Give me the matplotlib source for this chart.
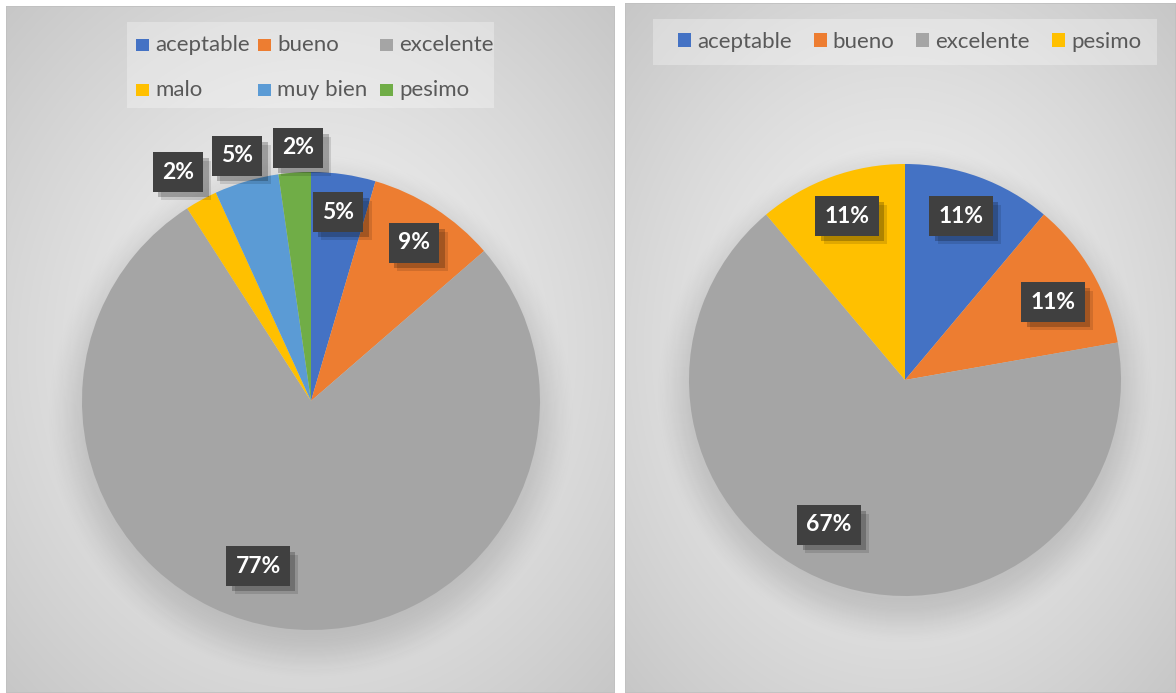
import numpy as np
import matplotlib
matplotlib.use("Agg")
import matplotlib.pyplot as plt
import matplotlib.patheffects as pe
from matplotlib.patches import Rectangle, Patch

W, H = 1176, 693

# survey answers per category
cats_left = ["aceptable", "bueno", "excelente", "malo", "muy bien", "pesimo"]
counts_left = [2, 4, 34, 1, 2, 1]
colors_left = ["#4472C4", "#ED7D31", "#A5A5A5", "#FFC000", "#5B9BD5", "#70AD47"]

cats_right = ["aceptable", "bueno", "excelente", "pesimo"]
counts_right = [1, 1, 6, 1]
colors_right = ["#4472C4", "#ED7D31", "#A5A5A5", "#FFC000"]

# where each percentage box sits, in units of the pie radius
label_xy_left = [(0.118, 0.825), (0.45, 0.69), (-0.231, -0.721),
                 (-0.581, 1.0), (-0.323, 1.07), (-0.057, 1.105)]
label_xy_right = [(0.259, 0.759), (0.685, 0.361), (-0.352, -0.671), (-0.269, 0.759)]

FONT = "Lato"
TXT = "#595959"

fig = plt.figure(figsize=(W / 100, H / 100), dpi=100)
fig.patch.set_facecolor("white")


def px_axes(x0, y0, x1, y1):
    return fig.add_axes([x0 / W, 1 - y1 / H, (x1 - x0) / W, (y1 - y0) / H])


def panel(x0, y0, x1, y1):
    ax = px_axes(x0, y0, x1, y1)
    ny, nx = int(y1 - y0), int(x1 - x0)
    yy, xx = np.mgrid[-1:1:ny * 1j, -1:1:nx * 1j]
    d = np.sqrt(xx ** 2 + yy ** 2) / np.sqrt(2)
    v = 0.95 - 0.17 * d ** 1.3
    img = np.dstack([v, v, v])
    ax.imshow(img, extent=(0, 1, 0, 1), aspect="auto", interpolation="bilinear")
    ax.add_patch(Rectangle((0, 0), 1, 1, transform=ax.transAxes, fill=False,
                           ec="#c0c0c0", lw=1.2))
    ax.set_xlim(0, 1)
    ax.set_ylim(0, 1)
    ax.axis("off")
    return ax


def pie_axes(cx, cy, R, lim=1.3):
    s = 2 * lim * R
    return fig.add_axes([(cx - s / 2) / W, 1 - (cy + s / 2) / H, s / W, s / H])


def draw_pie(ax, counts, colors, label_xy, lim=1.3):
    # soft drop shadow under the pie
    n = 400
    yy, xx = np.mgrid[-lim:lim:n * 1j, -lim:lim:n * 1j]
    d = np.sqrt(xx ** 2 + (yy + 0.07) ** 2)
    t = np.clip((d - 0.93) / 0.24, 0, 1)
    a = 0.14 * (1 - (3 * t ** 2 - 2 * t ** 3))
    sh = np.zeros((n, n, 4))
    sh[..., 3] = a
    ax.imshow(sh, extent=(-lim, lim, -lim, lim), origin="lower", zorder=0,
              interpolation="bilinear")

    wedges, _ = ax.pie(counts, colors=colors, startangle=90, counterclock=False,
                       radius=1, wedgeprops=dict(linewidth=0))
    for w in wedges:
        w.set_zorder(2)
    total = sum(counts)
    for c, (x, y) in zip(counts, label_xy):
        t = ax.text(x, y, f"{100 * c / total:.0f}%", ha="center", va="center",
                    color="white", fontsize=16.5, fontweight="bold", family=FONT,
                    zorder=5,
                    bbox=dict(boxstyle="square,pad=0.40", fc="#404040", ec="none"))
        t.get_bbox_patch().set_path_effects([
            pe.SimplePatchShadow(offset=(6, -6), shadow_rgbFace="black", alpha=0.12),
            pe.SimplePatchShadow(offset=(4, -4), shadow_rgbFace="black", alpha=0.22),
            pe.Normal(),
        ])
    ax.set_xlim(-lim, lim)
    ax.set_ylim(-lim, lim)
    ax.set_aspect("equal")
    ax.axis("off")
    return wedges


panel(6, 6, 615, 693)
panel(625, 3, 1176, 693)

ax_l = pie_axes(311, 401, 229)
draw_pie(ax_l, counts_left, colors_left, label_xy_left)
ax_r = pie_axes(905, 380, 216)
draw_pie(ax_r, counts_right, colors_right, label_xy_right)

# legends live on a pixel-space overlay
lg = px_axes(0, 0, W, H)
lg.set_xlim(0, W)
lg.set_ylim(H, 0)
lg.axis("off")

# left legend: fixed 3-column grid
lg.add_patch(Rectangle((126.5, 22), 367.5, 86, fc="white", ec="none", alpha=0.3))
for i, (cat, col) in enumerate(zip(cats_left, colors_left)):
    r, c = divmod(i, 3)
    x = 136 + c * 122
    y = 45 + r * 45
    lg.add_patch(Rectangle((x, y - 6), 13, 12, fc=col, ec="none"))
    lg.text(x + 19, y, cat, ha="left", va="center", fontsize=16, family=FONT, color=TXT)

# right legend: one row
lg.add_patch(Rectangle((653, 19), 504, 46, fc="white", ec="none", alpha=0.3))
handles = [Patch(fc=c, ec="none") for c in colors_right]
lg.legend(handles, cats_right, ncol=4, loc="center", frameon=False,
          bbox_to_anchor=(909.5 / W, 1 - 42 / H), bbox_transform=fig.transFigure,
          prop=dict(family=FONT, size=16), labelcolor=TXT,
          handlelength=0.58, handleheight=0.58, handletextpad=0.27,
          columnspacing=1.0, borderpad=0)

fig.savefig("out.png", dpi=100)
